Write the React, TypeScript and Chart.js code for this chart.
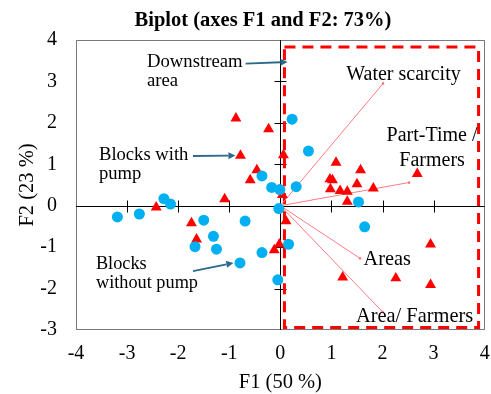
import { useEffect, useRef } from "react";
import { Chart, registerables } from "chart.js";

Chart.register(...registerables);

// ---- Data ----
const blueX = [0.23, 0.55, -0.36, -0.17, -0.01, 0.31, -0.03, 1.53, 1.65, 0.16, -0.05, -0.36, -0.79, -1.25, -1.31, -1.67, -1.5, -0.69, -2.76, -2.28, -2.15, -3.19];
const blueY = [2.09, 1.32, 0.72, 0.44, 0.39, 0.46, -0.07, 0.09, -0.51, -0.93, -1.79, -1.13, -1.38, -1.05, -0.74, -0.99, -0.35, -0.37, -0.2, 0.17, 0.04, -0.27];

const redX = [-0.87, -0.23, -0.78, -0.46, -0.59, 0.06, 0.04, -1.09, -2.43, 1.09, 1.57, 0.97, 1.02, 0.98, 1.17, 1.31, 1.5, 1.82, 1.31, 2.68, 0.11, -0.12, -0.02, 2.94, 1.22, 2.26, 2.94, -1.74, -1.64];
const redY = [2.11, 1.85, 1.21, 0.86, 0.62, 1.22, 0.26, 0.16, -0.04, 1.04, 0.86, 0.64, 0.62, 0.4, 0.36, 0.34, 0.52, 0.42, 0.1, 0.77, -0.37, -1.07, -0.93, -0.93, -1.73, -1.75, -1.91, -0.42, -0.81];

const vectorNames = ["Water scarcity", "Part-Time / Farmers", "Areas", "Area/ Farmers"];
const vectorX = [2.01, 2.52, 1.56, 2.0];
const vectorY = [2.95, 0.56, -1.27, -2.56];

const xTicks = [-4, -3, -2, -1, 0, 1, 2, 3, 4];
const yTicks = [-3, -2, -1, 0, 1, 2, 3, 4];

const highlightX = [0.08, 3.88];
const highlightY = [-2.94, 3.83];

const TITLE = "Biplot (axes F1 and F2: 73%)";
const X_TITLE = "F1 (50 %)";
const Y_TITLE = "F2 (23 %)";

// annotation texts (anchor in data coords, first line baseline)
const notes = [
  { lines: ["Downstream", "area"], x: -2.61, y: 3.36, size: 18.7, align: "left", lh: 19 },
  { lines: ["Water scarcity"], x: 1.29, y: 3.03, size: 20, align: "left", lh: 20 },
  { lines: ["Part-Time /", "Farmers"], x: 2.97, y: 1.57, size: 20, align: "center", lh: 25 },
  { lines: ["Areas"], x: 1.63, y: -1.42, size: 20.3, align: "left", lh: 20 },
  { lines: ["Area/ Farmers"], x: 1.48, y: -2.8, size: 20.4, align: "left", lh: 20 },
  { lines: ["Blocks with", "pump"], x: -3.55, y: 1.1, size: 18.6, align: "left", lh: 19 },
  { lines: ["Blocks", "without pump"], x: -3.61, y: -1.53, size: 18.3, align: "left", lh: 19 },
];

const arrowsFrom = [[-0.68, 3.43], [-1.71, 1.2], [-1.71, -1.58]];
const arrowsTo = [[0.14, 3.47], [-0.88, 1.21], [-0.92, -1.38]];

const FONT = '"Liberation Serif", "Times New Roman", serif';

const overlay = {
  id: "overlay",
  beforeDatasetsDraw(chart: any) {
    const { ctx, chartArea: a, scales } = chart;
    const x = scales.x, y = scales.y;
    ctx.save();
    // outer box
    ctx.strokeStyle = "#7a7a7a";
    ctx.lineWidth = 1;
    ctx.strokeRect(Math.round(a.left) + 0.5, Math.round(a.top) + 0.5, Math.round(a.right - a.left) - 1, Math.round(a.bottom - a.top) - 1);
    // central axes
    const x0 = Math.round(x.getPixelForValue(0)) + 0.5;
    const y0 = Math.round(y.getPixelForValue(0)) + 0.5;
    ctx.strokeStyle = "#000";
    ctx.beginPath();
    ctx.moveTo(a.left, y0);
    ctx.lineTo(a.right, y0);
    ctx.moveTo(x0, a.top);
    ctx.lineTo(x0, a.bottom);
    xTicks.forEach((v) => {
      if (v === 0 || v === xTicks[0] || v === xTicks[xTicks.length - 1]) return;
      const px = Math.round(x.getPixelForValue(v)) + 0.5;
      ctx.moveTo(px, y0 - 6);
      ctx.lineTo(px, y0 + 6);
    });
    yTicks.forEach((v) => {
      if (v === 0 || v === yTicks[0] || v === yTicks[yTicks.length - 1]) return;
      const py = Math.round(y.getPixelForValue(v)) + 0.5;
      ctx.moveTo(x0 - 6, py);
      ctx.lineTo(x0 + 6, py);
    });
    ctx.stroke();
    // dashed highlight rectangle
    const l = x.getPixelForValue(highlightX[0]);
    const r = x.getPixelForValue(highlightX[1]);
    const t = y.getPixelForValue(highlightY[1]);
    const b = y.getPixelForValue(highlightY[0]);
    ctx.strokeStyle = "#FF0000";
    ctx.lineWidth = 3;
    ctx.setLineDash([11, 7]);
    ctx.strokeRect(l, t, r - l, b - t);
    ctx.restore();
  },
  afterDraw(chart: any) {
    const { ctx, scales } = chart;
    const x = scales.x, y = scales.y;
    ctx.save();
    // title
    ctx.fillStyle = "#000";
    ctx.font = `bold 20.5px ${FONT}`;
    ctx.textAlign = "center";
    ctx.textBaseline = "alphabetic";
    ctx.fillText(TITLE, 263, 26);
    // notes
    notes.forEach((n) => {
      ctx.font = `${n.size}px ${FONT}`;
      ctx.textAlign = n.align;
      const px = x.getPixelForValue(n.x);
      const py = y.getPixelForValue(n.y);
      n.lines.forEach((line, i) => ctx.fillText(line, px, py + i * n.lh));
    });
    // arrows
    ctx.strokeStyle = "#2B6A8B";
    ctx.fillStyle = "#2B6A8B";
    ctx.lineWidth = 1.8;
    arrowsFrom.forEach((f, i) => {
      const to = arrowsTo[i];
      const x1 = x.getPixelForValue(f[0]), y1 = y.getPixelForValue(f[1]);
      const x2 = x.getPixelForValue(to[0]), y2 = y.getPixelForValue(to[1]);
      const ang = Math.atan2(y2 - y1, x2 - x1);
      const len = 7, hw = 3.5;
      const bx = x2 - Math.cos(ang) * len, by = y2 - Math.sin(ang) * len;
      ctx.beginPath();
      ctx.moveTo(x1, y1);
      ctx.lineTo(bx, by);
      ctx.stroke();
      ctx.beginPath();
      ctx.moveTo(x2, y2);
      ctx.lineTo(bx + Math.sin(ang) * hw, by - Math.cos(ang) * hw);
      ctx.lineTo(bx - Math.sin(ang) * hw, by + Math.cos(ang) * hw);
      ctx.closePath();
      ctx.fill();
    });
    ctx.restore();
  },
};

export default function App() {
  const ref = useRef<HTMLCanvasElement | null>(null);
  useEffect(() => {
    document.body.style.margin = "0";
    if (!ref.current) return;
    const chart = new Chart(ref.current, {
      type: "scatter",
      data: {
        datasets: [
          ...vectorNames.map((name, i) => ({
            label: name,
            data: [{ x: 0, y: 0 }, { x: vectorX[i], y: vectorY[i] }],
            showLine: true,
            borderColor: "#FF7C80",
            borderWidth: 1,
            pointRadius: [0, 1.6],
            pointStyle: "rect",
            pointBackgroundColor: "#FF6F73",
            pointBorderWidth: 0,
            order: 3,
          })),
          {
            label: "Blocks with pump",
            data: redX.map((v, i) => ({ x: v, y: redY[i] })),
            pointStyle: "triangle",
            pointRadius: 6.3,
            backgroundColor: "#FF0000",
            borderColor: "#FF0000",
            borderWidth: 0,
            order: 2,
          },
          {
            label: "Blocks without pump",
            data: blueX.map((v, i) => ({ x: v, y: blueY[i] })),
            pointStyle: "circle",
            pointRadius: 5.5,
            backgroundColor: "#00B0F0",
            borderColor: "#00B0F0",
            borderWidth: 0,
            order: 1,
          },
        ],
      },
      options: {
        responsive: false,
        animation: false,
        layout: { padding: { top: 40, right: 5, left: 0, bottom: 0 } },
        plugins: {
          legend: { display: false },
          tooltip: { enabled: false },
          title: { display: false },
        },
        scales: {
          x: {
            type: "linear",
            min: -4,
            max: 4,
            afterBuildTicks: (s: any) => {
              s.ticks = xTicks.map((v) => ({ value: v }));
            },
            ticks: { padding: 0, color: "#000", font: { family: FONT, size: 20, lineHeight: 2.4 } },
            grid: { display: false, drawTicks: false },
            border: { display: false },
            title: {
              display: true,
              text: X_TITLE,
              color: "#000",
              font: { family: FONT, size: 20.5, lineHeight: 1 },
              padding: { top: 0, bottom: 1 },
            },
            afterFit: (s: any) => {
              s.height = 64;
            },
          },
          y: {
            type: "linear",
            min: -3,
            max: 4,
            afterBuildTicks: (s: any) => {
              s.ticks = yTicks.map((v) => ({ value: v }));
            },
            ticks: { padding: 19, color: "#000", font: { family: FONT, size: 20 } },
            grid: { display: false, drawTicks: false },
            border: { display: false },
            title: {
              display: true,
              text: Y_TITLE,
              color: "#000",
              font: { family: FONT, size: 20.5, lineHeight: 1 },
              padding: { top: 17, bottom: 0 },
            },
            afterFit: (s: any) => {
              s.width = 76;
            },
          },
        },
      },
      plugins: [overlay],
    } as any);
    return () => chart.destroy();
  }, []);
  return (
    <div style={{ width: 491, height: 394 }}>
      <canvas ref={ref} width={491} height={394} style={{ display: "block" }} />
    </div>
  );
}
